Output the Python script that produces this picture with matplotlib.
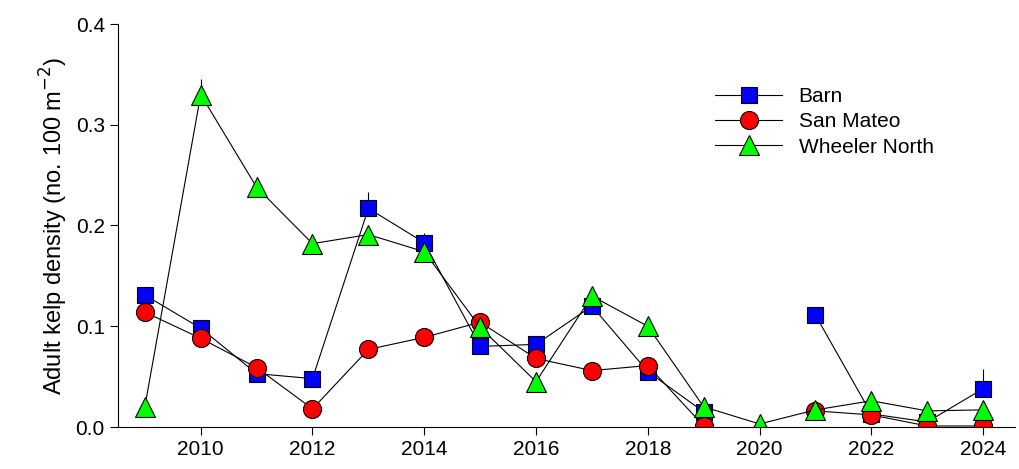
import matplotlib
matplotlib.use("Agg")
import matplotlib.pyplot as plt
import numpy as np

years = list(range(2009, 2025))
barn = [0.131, 0.098, 0.053, 0.048, 0.217, 0.183, 0.080, 0.082, 0.120, 0.055, 0.015, np.nan, 0.111, 0.013, 0.005, 0.038]
barn_err = [0.008, 0.006, 0.004, 0.004, 0.016, 0.010, 0.005, 0.006, 0.008, 0.004, 0.002, 0, 0.008, 0.002, 0.002, 0.020]
sanmateo = [0.114, 0.088, 0.059, 0.018, 0.077, 0.089, 0.104, 0.068, 0.056, 0.061, 0.001, np.nan, 0.016, 0.012, 0.001, 0.001]
sm_err = [0.008, 0.006, 0.004, 0.003, 0.005, 0.005, 0.008, 0.005, 0.004, 0.004, 0.001, 0, 0.003, 0.002, 0.001, 0.001]
wheeler = [0.020, 0.330, 0.238, 0.182, 0.191, 0.174, 0.099, 0.045, 0.130, 0.100, 0.020, 0.003, 0.017, 0.026, 0.016, 0.017]
wn_err = [0.003, 0.015, 0.010, 0.006, 0.008, 0.008, 0.006, 0.004, 0.008, 0.006, 0.003, 0.001, 0.003, 0.003, 0.002, 0.002]

plt.rcParams['font.family'] = ['Arial', 'Liberation Sans', 'DejaVu Sans']
fig = plt.figure(figsize=(10.2, 4.69), dpi=100)
ax = fig.add_axes([118/1020, 42/469, (1015-118)/1020, (427-24)/469])

def draw(y, e, marker, color, ms, label):
    y = np.array(y); e = np.array(e)
    ax.errorbar(years, y, yerr=[np.zeros_like(e), e], fmt='none', ecolor='black', elinewidth=0.8)
    ax.plot(years, y, color='black', lw=0.8, marker=marker, ms=ms, mfc=color, mec='black', mew=0.8, label=label)

draw(barn, barn_err, 's', '#0000ff', 12, 'Barn')
draw(sanmateo, sm_err, 'o', '#ff0000', 13, 'San Mateo')
draw(wheeler, wn_err, '^', '#00ff00', 14, 'Wheeler North')

ax.set_xlim(2008.52, 2024.57)
ax.set_ylim(0, 0.4)
ax.set_xticks(range(2010, 2025, 2))
ax.set_yticks([0.0, 0.1, 0.2, 0.3, 0.4])
ax.set_yticklabels(['0.0', '0.1', '0.2', '0.3', '0.4'])
for s in ['top', 'right']:
    ax.spines[s].set_visible(False)
ax.tick_params(labelsize=15, direction='out', length=6)
ax.set_ylabel('Adult kelp density (no. 100 m$^{-2}$)', fontsize=17)
ax.legend(loc='upper left', bbox_to_anchor=(0.645, 0.89), frameon=False, fontsize=15, handlelength=3.2, labelspacing=0.3)
fig.savefig('out.png')
